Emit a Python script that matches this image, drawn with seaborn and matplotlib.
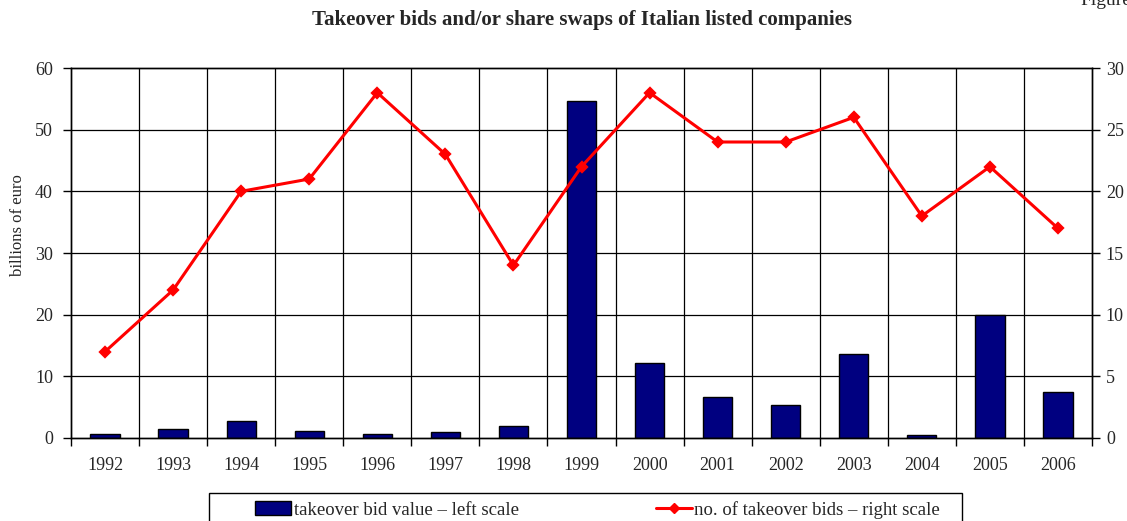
import matplotlib
matplotlib.use("Agg")
import matplotlib.pyplot as plt
from matplotlib.patches import Rectangle, Patch
from matplotlib.lines import Line2D
import numpy as np
import pandas as pd
import seaborn as sns

years = ["1992", "1993", "1994", "1995", "1996", "1997", "1998", "1999",
         "2000", "2001", "2002", "2003", "2004", "2005", "2006"]
bid_value = [0.6, 1.4, 2.8, 1.1, 0.7, 1.0, 2.0, 54.6,
             12.1, 6.7, 5.3, 13.7, 0.5, 19.9, 7.4]
bid_count = [7, 12, 20, 21, 28, 23, 14, 22, 28, 24, 24, 26, 18, 22, 17]

title = "Takeover bids and/or share swaps of Italian listed companies"
left_label = "billions of euro"
bar_label = "takeover bid value \u2013 left scale"
line_label = "no. of takeover bids \u2013 right scale"

sns.set_theme(style="white")
plt.rcParams["font.family"] = ["Liberation Serif", "DejaVu Serif"]
plt.rcParams["font.size"] = 13

df = pd.DataFrame({"year": years, "value": bid_value, "count": bid_count})

W, H = 1127, 521
fig = plt.figure(figsize=(W / 100, H / 100), dpi=100)
ax = fig.add_axes([71 / W, 1 - 438 / H, (1092 - 71) / W, (438 - 68) / H])
ax2 = ax.twinx()

navy = "#000080"
red = "#ff0000"

# gridlines behind the bars
ax.set_axisbelow(True)
for k in range(1, len(years)):
    ax.axvline(k - 0.5, color="black", lw=0.9, zorder=0)
for v in range(10, 60, 10):
    ax.axhline(v, color="black", lw=0.9, zorder=0)

sns.barplot(data=df, x="year", y="value", ax=ax, color=navy, width=0.43,
            edgecolor="black", linewidth=1.0, saturation=1.0, zorder=2)

sns.pointplot(data=df, x="year", y="count", ax=ax2, color=red, markers="D",
              linestyles="-", linewidth=2.2, markersize=5.5, zorder=3)

ax.set_xlim(-0.5, len(years) - 0.5)
ax.set_ylim(0, 60)
ax.set_yticks(np.arange(0, 61, 10))
ax2.set_ylim(0, 30)
ax2.set_yticks(np.arange(0, 31, 5))
ax2.set_xlim(-0.5, len(years) - 0.5)

ax.set_xlabel("")
ax2.set_xlabel("")
ax2.set_ylabel("")
ax.set_ylabel("")

# year labels centred, tick marks on the category boundaries
ax.set_xticks(range(len(years)))
ax.set_xticklabels(years)
ax.set_xticks(np.arange(-0.5, len(years), 1.0), minor=True)
ax.tick_params(axis="x", which="major", length=0, pad=14, labelsize=13)
ax.tick_params(axis="x", which="minor", length=6, width=1.0, direction="out",
               color="black", bottom=True)
ax.tick_params(axis="y", length=6, width=1.0, direction="out", color="black",
               left=True, labelsize=13, pad=7)
ax2.tick_params(axis="y", length=6, width=1.0, direction="out", color="black",
                right=True, labelsize=13, pad=4)
ax2.tick_params(axis="x", length=0)

for a in (ax, ax2):
    for s in a.spines.values():
        s.set_color("black")
        s.set_linewidth(1.0)

fig.text(18 / W, 1 - 225 / H, left_label, rotation=90, ha="center",
         va="center", fontsize=12)
fig.text(582 / W, 1 - 20 / H, title, ha="center", va="center",
         fontsize=15, fontweight="bold")
fig.text(1080 / W, 1 - 5 / H, "Figure", ha="left", va="baseline", fontsize=14)

# legend with its frame running off the bottom edge
fig.patches.append(Rectangle((209 / W, -0.05), (962 - 209) / W,
                             0.05 + (521 - 493) / H, transform=fig.transFigure,
                             fill=False, edgecolor="black", lw=1.0))
h1 = Patch(facecolor=navy, edgecolor="black", linewidth=1.0)
h2 = Line2D([], [], color=red, lw=2.2, marker="D", markersize=5.5)
fig.legend([h1], [bar_label], loc="center left", frameon=False,
           bbox_to_anchor=(238 / W, 1 - 510 / H), fontsize=13.5,
           handlelength=1.95, handleheight=0.75, handletextpad=0.15)
fig.legend([h2], [line_label], loc="center left", frameon=False,
           bbox_to_anchor=(639 / W, 1 - 510 / H), fontsize=13.5,
           handlelength=1.9, handletextpad=0.15)

fig.savefig("out.png", dpi=100)
